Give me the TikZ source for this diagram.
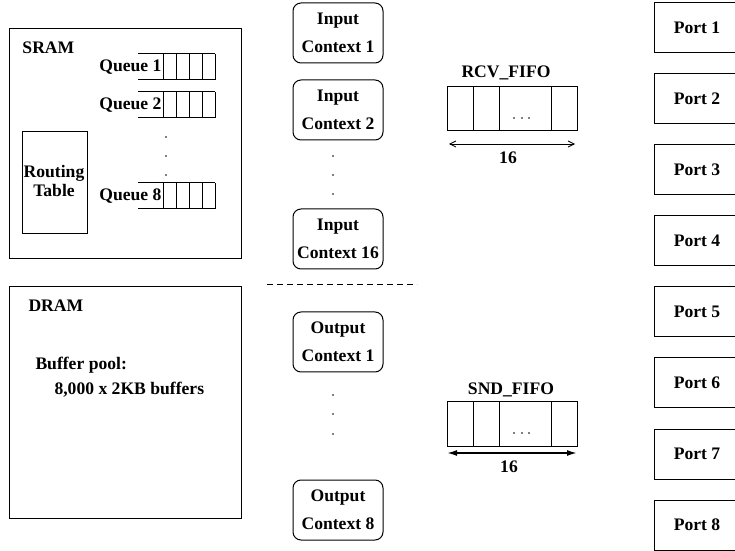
\documentclass[tikz,border=0pt]{standalone}
\usepackage{fontspec}
\setmainfont{Liberation Serif}
\usetikzlibrary{arrows.meta}
\tikzset{
	lbl/.style={font=\fontsize{8.8}{12}\selectfont\bfseries, inner sep=0pt},
	ctxbox/.style={draw, rounded corners=4pt, minimum width=45pt, minimum height=30pt,
		lbl, align=center, font=\fontsize{8.8}{14}\selectfont\bfseries},
	vdot/.style={fill=black},
}
\def\queue(#1,#2)#3{
	\draw (138,#1) -- (215,#1);
	\draw (138,#1+26) -- (215,#1+26);
	\foreach \xx in {163,176,189,202,215} \draw (\xx,#1) -- (\xx,#1+26);
	\node[lbl, anchor=east] (#3) at (162,#1+13) {#2};
}
\def\fifo(#1)#2{
	\draw (447,#1) rectangle (577,#1+44);
	\foreach \xx in {473,499,551} \draw (\xx,#1) -- (\xx,#1+44);
	\foreach \xx in {514,522,529} \fill[vdot] (\xx,#1+31) circle (0.8);
}

\begin{document}
\begin{tikzpicture}[x=0.5pt, y=-0.5pt, line width=0.5pt]
		%%%%% START %%%%%
		\useasboundingbox (0,0) rectangle (735,551);
		\clip (0,0) rectangle (735,551);

		% SRAM
		\draw (9,29) rectangle (241,259);
		\node[lbl, anchor=west] (sram) at (22,48) {SRAM};
		\queue(54,Queue 1){q1}
		\queue(92,Queue 2){q2}
		\queue(183,Queue 8){q8}
		\foreach \yy in {137,156,175} \fill[vdot] (166,\yy) circle (0.8);
		\draw (22,132) rectangle (87,234);
		\node[lbl, align=center, font=\fontsize{8.8}{9.5}\selectfont\bfseries] (rtable) at (54,181) {Routing\\Table};

		% DRAM
		\draw (9,287) rectangle (241,518);
		\node[lbl, anchor=west] (dram) at (28,306) {DRAM};
		\node[lbl, anchor=west] (pool) at (35,365) {Buffer pool:};
		\node[lbl, anchor=west] (bufs) at (54,390) {8,000 x 2KB buffers};

		% contexts
		\node[ctxbox] (in1) at (338,33) {Input\\Context 1};
		\node[ctxbox] (in2) at (338,110) {Input\\Context 2};
		\foreach \yy in {156,175,194} \fill[vdot] (333,\yy) circle (0.8);
		\node[ctxbox] (in16) at (338,239) {Input\\Context 16};

		\draw[dash pattern=on 3pt off 2pt] (267,285) -- (417,285);

		\node[ctxbox] (out1) at (338,342) {Output\\Context 1};
		\foreach \yy in {395,414,434} \fill[vdot] (333,\yy) circle (0.8);
		\node[ctxbox] (out8) at (338,510) {Output\\Context 8};

		% FIFOs
		\node[lbl] (rcvlbl) at (506,73) {RCV\_FIFO};
		\fifo(87){rcv}
		\coordinate (rcvl) at (449,144);
		\coordinate (rcvr) at (575,144);
		\draw[{Straight Barb[length=3pt,width=3pt]}-{Straight Barb[length=3pt,width=3pt]}, line width=0.4pt] (rcvl) -- (rcvr);
		\node[lbl] (rcvlen) at (508,158) {16};

		\node[lbl] (sndlbl) at (511,390) {SND\_FIFO};
		\fifo(402){snd}
		\coordinate (sndl) at (447,453);
		\coordinate (sndr) at (577,453);
		\draw[{Latex[length=5pt,width=3pt]}-{Latex[length=5pt,width=3pt]}, line width=0.8pt] (sndl) -- (sndr);
		\node[lbl] (sndlen) at (509,467) {16};

		% ports
		\foreach \i in {1,...,8} {
			\pgfmathsetmacro{\top}{3+71*(\i-1)}
			\draw (654,\top) rectangle (760,\top+50);
			\node[lbl] (port\i) at (697,\top+25) {Port \i};
		}
		%%%%% END %%%%%
	\end{tikzpicture}
\end{document}
